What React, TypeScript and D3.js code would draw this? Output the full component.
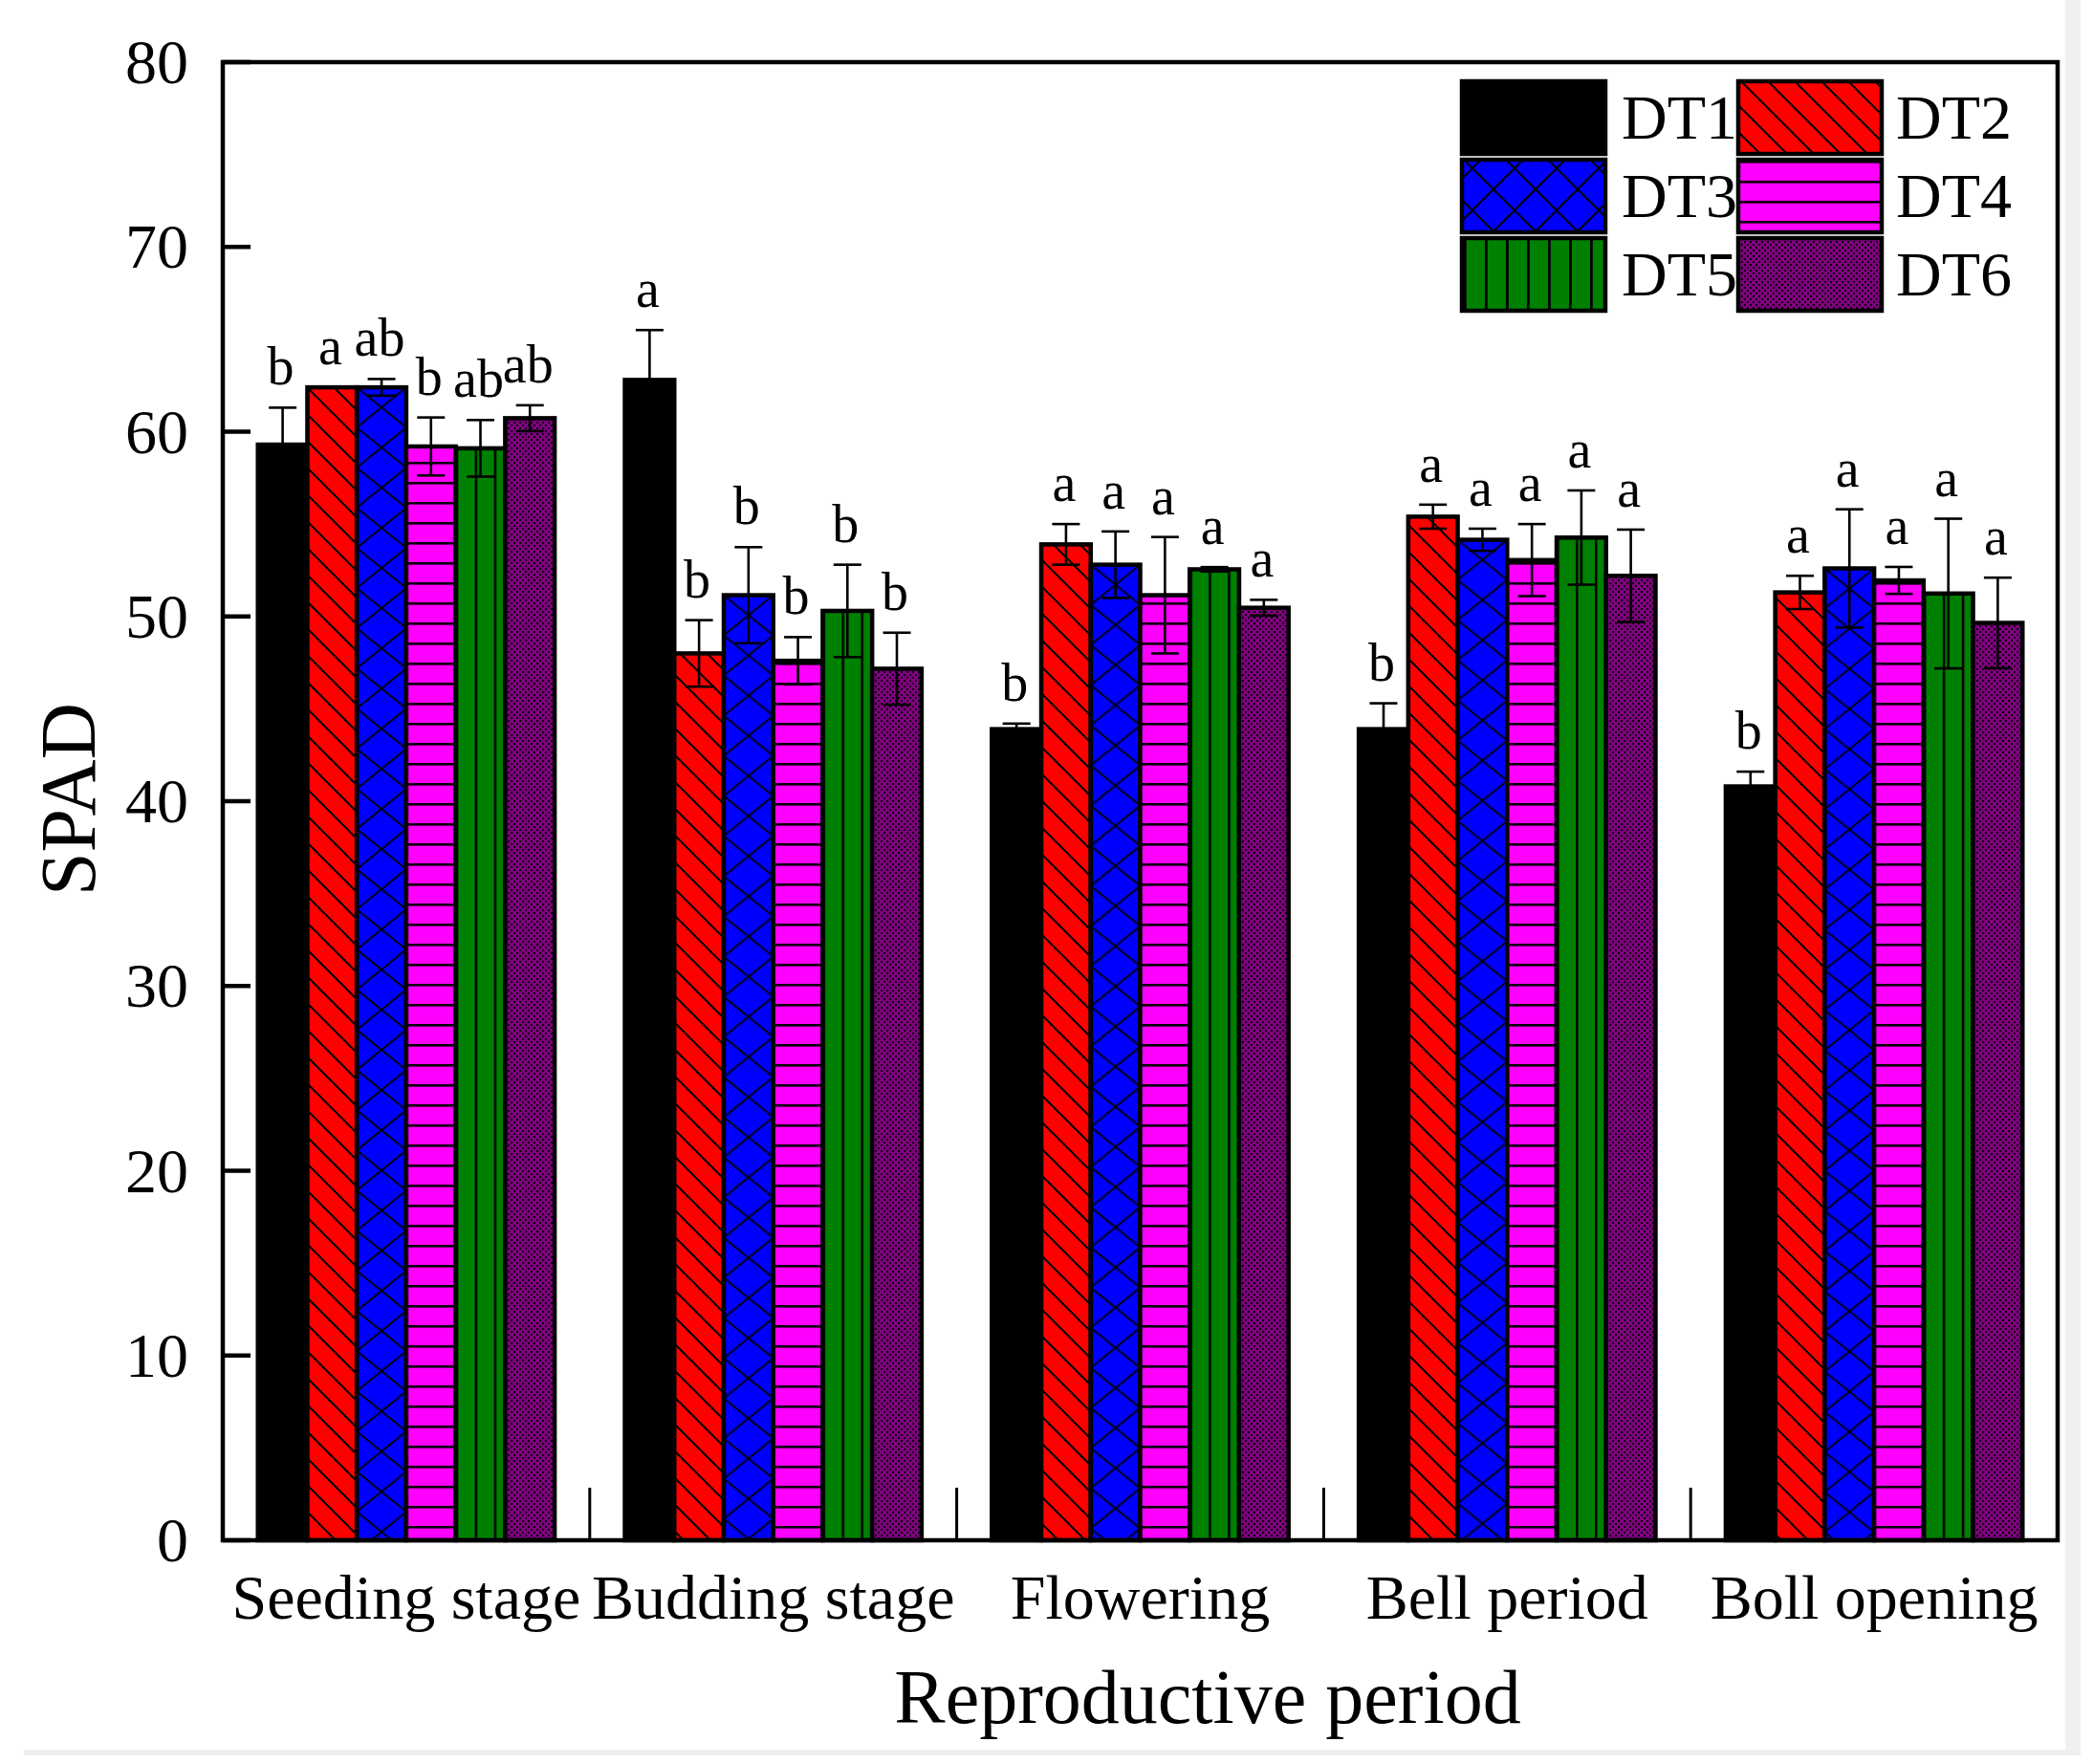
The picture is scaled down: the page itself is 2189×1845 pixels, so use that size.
import React from "react";
import * as d3 from "d3";

const categories = ["Seeding stage", "Budding stage", "Flowering", "Bell period", "Boll opening"];
const series = ["DT1", "DT2", "DT3", "DT4", "DT5", "DT6"];

const dt1Values = [59.3, 62.8, 43.9, 43.9, 40.8];
const dt2Values = [62.4, 48.0, 53.9, 55.4, 51.3];
const dt3Values = [62.4, 51.15, 52.8, 54.15, 52.6];
const dt4Values = [59.2, 47.6, 51.15, 53.05, 51.95];
const dt5Values = [59.1, 50.3, 52.55, 54.27, 51.24];
const dt6Values = [60.73, 47.17, 50.47, 52.2, 49.65];

const dt1Errors = [2.0, 2.7, 0.3, 1.4, 0.8];
const dt2Errors = [0, 1.8, 1.1, 0.65, 0.9];
const dt3Errors = [0.45, 2.6, 1.8, 0.6, 3.2];
const dt4Errors = [1.57, 1.28, 3.15, 1.95, 0.73];
const dt5Errors = [1.53, 2.5, 0.12, 2.55, 4.05];
const dt6Errors = [0.7, 1.95, 0.43, 2.5, 2.45];

const dt1Letters = ["b", "a", "b", "b", "b"];
const dt2Letters = ["a", "b", "a", "a", "a"];
const dt3Letters = ["ab", "b", "a", "a", "a"];
const dt4Letters = ["b", "b", "a", "a", "a"];
const dt5Letters = ["ab", "b", "a", "a", "a"];
const dt6Letters = ["ab", "b", "a", "a", "a"];

const yTicks = [0, 10, 20, 30, 40, 50, 60, 70, 80];

const valuesBySeries = [dt1Values, dt2Values, dt3Values, dt4Values, dt5Values, dt6Values];
const errorsBySeries = [dt1Errors, dt2Errors, dt3Errors, dt4Errors, dt5Errors, dt6Errors];
const lettersBySeries = [dt1Letters, dt2Letters, dt3Letters, dt4Letters, dt5Letters, dt6Letters];

const W = 2189;
const H = 1845;
const left = 233;
const right = 2152;
const top = 65;
const bottom = 1611;
const FONT = "'Liberation Serif', 'Times New Roman', serif";

const fills = ["#000000", "url(#p2)", "url(#p3)", "url(#p4)", "url(#p5)", "url(#p6)"];

export default function App() {
  const y = d3.scaleLinear().domain([0, 80]).range([bottom, top]);
  const x = d3.scaleBand<string>().domain(categories).range([left, right]).padding(0);
  const inner = d3
    .scaleBand<string>()
    .domain(series)
    .range([0, x.bandwidth()])
    .paddingInner(0)
    .paddingOuter(0.71);
  const bw = inner.bandwidth();
  const capW = 29;

  const bars: any[] = [];
  const errs: any[] = [];
  const labels: any[] = [];
  const barPatterns: any[] = [];
  categories.forEach((cat, ci) => {
    series.forEach((s, si) => {
      const v = valuesBySeries[si][ci];
      const e = errorsBySeries[si][ci];
      const bx = (x(cat) as number) + (inner(s) as number);
      const cx = bx + bw / 2;
      let fill = fills[si];
      if (si === 2) {
        const id = `p3-${ci}`;
        fill = `url(#${id})`;
        barPatterns.push(
          <pattern key={id} id={id} patternUnits="userSpaceOnUse" x={bx} y={y(v)} width={bw} height={42}>
            <rect width={bw} height={42} fill="#0000ff" />
            <path
              d={`M0,0 L${bw},42 M${bw},0 L0,42 M${-bw / 2},21 L${bw / 2},63 M${bw / 2},-21 L${bw * 1.5},21 M${bw / 2},-21 L${-bw / 2},21 M${bw * 1.5},21 L${bw / 2},63`}
              stroke="#000"
              strokeWidth={1.8}
            />
          </pattern>
        );
      } else if (si === 4) {
        const id = `p5-${ci}`;
        fill = `url(#${id})`;
        barPatterns.push(
          <pattern key={id} id={id} patternUnits="userSpaceOnUse" x={bx + 20} y={0} width={20} height={20}>
            <rect width={20} height={20} fill="#008000" />
            <rect x={0} y={0} width={2.5} height={20} fill="#000" />
          </pattern>
        );
      }
      bars.push(
        <rect
          key={`b-${ci}-${si}`}
          x={bx}
          y={y(v)}
          width={bw}
          height={y(0) - y(v)}
          fill={fill}
          stroke="#000"
          strokeWidth={4.5}
        />
      );
      if (e > 0) {
        errs.push(
          <g key={`e-${ci}-${si}`} stroke="#000" strokeWidth={2.6}>
            <line x1={cx} x2={cx} y1={y(v - e)} y2={y(v + e)} />
            <line x1={cx - capW / 2} x2={cx + capW / 2} y1={y(v + e)} y2={y(v + e)} />
            <line x1={cx - capW / 2} x2={cx + capW / 2} y1={y(v - e)} y2={y(v - e)} />
          </g>
        );
      }
      labels.push(
        <text
          key={`l-${ci}-${si}`}
          x={cx - 2}
          y={y(v + e) - 24}
          textAnchor="middle"
          fontSize={56}
          fontFamily={FONT}
          fill="#000"
        >
          {lettersBySeries[si][ci]}
        </text>
      );
    });
  });

  const dividers = categories.slice(1).map((c) => x(c) as number);

  const legendCols = [1529, 1818];
  const legendRows = [85, 167, 249];
  const legendText = [1696, 1983];

  return (
    <svg
      width={W}
      height={H}
      viewBox={`0 0 ${W} ${H}`}
      style={{ position: "absolute", left: 0, top: 0, background: "#fff" }}
    >
      <defs>
        <pattern id="p2" patternUnits="userSpaceOnUse" width={28} height={28}>
          <rect width={28} height={28} fill="#ff0000" />
          <path d="M-2,-2 L30,30 M-9,19 L9,37 M19,-9 L37,9" stroke="#000" strokeWidth={2} />
        </pattern>
        <pattern id="p3" patternUnits="userSpaceOnUse" width={44} height={44}>
          <rect width={44} height={44} fill="#0000ff" />
          <path d="M-2,-2 L46,46 M46,-2 L-2,46" stroke="#000" strokeWidth={2} />
        </pattern>
        <pattern id="p4" patternUnits="userSpaceOnUse" width={21} height={21}>
          <rect width={21} height={21} fill="#ff00ff" />
          <rect x={0} y={0} width={21} height={2.6} fill="#000" />
        </pattern>
        <pattern id="p5" patternUnits="userSpaceOnUse" x={1553} width={22} height={22}>
          <rect width={22} height={22} fill="#008000" />
          <rect x={0} y={0} width={2.8} height={22} fill="#000" />
        </pattern>
        <pattern id="p6" patternUnits="userSpaceOnUse" width={6} height={6}>
          <rect width={6} height={6} fill="#800080" />
          <rect x={0} y={0} width={2} height={2} fill="#000" />
          <rect x={3} y={3} width={2} height={2} fill="#000" />
        </pattern>
        {barPatterns}
      </defs>

      <rect x={2160} y={0} width={16} height={1836} fill="#f0f0f0" />
      <rect x={25} y={1830} width={2151} height={6} fill="#eeeeee" />

      {bars}
      {errs}
      {labels}

      {/* axes frame */}
      <rect x={left} y={top} width={right - left} height={bottom - top} fill="none" stroke="#000" strokeWidth={4.5} />
      {yTicks.map((t) => (
        <g key={`t-${t}`}>
          <line x1={left} x2={left + 29} y1={y(t)} y2={y(t)} stroke="#000" strokeWidth={4.5} />
          <text x={197} y={y(t) + 22} textAnchor="end" fontSize={66} fontFamily={FONT} fill="#000">
            {t}
          </text>
        </g>
      ))}
      {dividers.map((d, i) => (
        <line key={`d-${i}`} x1={d} x2={d} y1={bottom} y2={bottom - 55} stroke="#000" strokeWidth={3} />
      ))}
      {categories.map((c) => (
        <text
          key={`c-${c}`}
          x={(x(c) as number) + x.bandwidth() / 2}
          y={1693}
          textAnchor="middle"
          fontSize={66}
          fontFamily={FONT}
          fill="#000"
        >
          {c}
        </text>
      ))}
      <text x={1263} y={1802} textAnchor="middle" fontSize={80} fontFamily={FONT} fill="#000">
        Reproductive period
      </text>
      <text
        transform="translate(99,836) rotate(-90)"
        textAnchor="middle"
        fontSize={82}
        fontFamily={FONT}
        fill="#000"
      >
        SPAD
      </text>

      {/* legend */}
      {series.map((s, i) => {
        const col = i % 2;
        const row = Math.floor(i / 2);
        return (
          <g key={`lg-${s}`}>
            <rect
              x={legendCols[col]}
              y={legendRows[row]}
              width={150}
              height={76}
              fill={fills[i]}
              stroke="#000"
              strokeWidth={4.5}
            />
            <text
              x={legendText[col]}
              y={legendRows[row] + 60}
              fontSize={66}
              fontFamily={FONT}
              fill="#000"
            >
              {s}
            </text>
          </g>
        );
      })}
    </svg>
  );
}
